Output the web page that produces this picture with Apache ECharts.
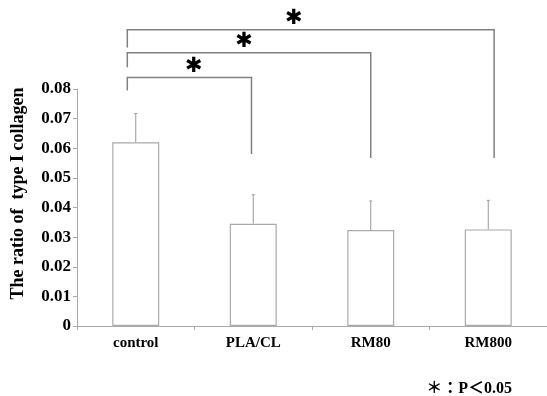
<!DOCTYPE html>
<html><head><meta charset="utf-8">
<script src="https://cdn.jsdelivr.net/npm/echarts@6/dist/echarts.min.js"></script>
<style>html,body{margin:0;padding:0;background:#fff}#c{width:547px;height:396px}</style>
</head><body><div id="c"></div>
<script>
const categories = ['control', 'PLA/CL', 'RM80', 'RM800'];
const means = [0.062, 0.0345, 0.0324, 0.0326];
const errTops = [0.0717, 0.0443, 0.0422, 0.0424];
const yMin = 0, yMax = 0.08, yStep = 0.01;
// significance brackets: from category, to category, line level, left foot, right foot
const bracketFrom = [0, 0, 0];
const bracketTo = [1, 2, 3];
const bracketLevel = [0.0839, 0.0922, 0.1];
const bracketLeftFoot = [0.0795, 0.0873, 0.094];
const bracketRightFoot = [0.0581, 0.0567, 0.0567];
const sigMark = '✱';
const footnote = '＊：P＜0.05';
const yName = 'The ratio of  type I collagen';

const serif = '"Liberation Serif", "Times New Roman", "Noto Sans CJK JP", serif';
const chart = echarts.init(document.getElementById('c'), null, {renderer: 'canvas'});

const bracketLeftShift = [-0.072, -0.072, -0.072];
const bracketRightShift = [-0.015, 0, 0.05];
const starFrac = [0.536, 0.48, 0.454];

const bracketData = bracketFrom.map((f, i) => [f, bracketTo[i], bracketLevel[i], bracketLeftFoot[i], bracketRightFoot[i], i]);
const errData = categories.map((c, i) => [i, means[i], errTops[i]]);

chart.setOption({
  animation: false,
  grid: {left: 77, right: 0, top: 89, bottom: 70, containLabel: false, outerBoundsMode: 'none'},
  title: {
    text: footnote, right: 30, top: 376,
    textStyle: {fontFamily: serif, fontWeight: 'bold', fontSize: 16, color: '#000'}
  },
  xAxis: {
    type: 'category', data: categories,
    axisLine: {lineStyle: {color: '#aaa', width: 1}},
    axisTick: {show: true, length: 4, inside: false, lineStyle: {color: '#aaa'}},
    axisLabel: {fontFamily: serif, fontWeight: 'bold', fontSize: 15, color: '#000', margin: 10},
    splitLine: {show: false}
  },
  yAxis: {
    type: 'value', min: yMin, max: yMax, interval: yStep,
    name: yName, nameLocation: 'middle', nameGap: 50,
    nameTextStyle: {fontFamily: serif, fontWeight: 'bold', fontSize: 18, color: '#000', padding: [0, 0, 0, 28]},
    axisLine: {show: true, lineStyle: {color: '#aaa', width: 1}},
    axisTick: {show: true, length: 4, lineStyle: {color: '#aaa'}},
    axisLabel: {fontFamily: serif, fontWeight: 'bold', fontSize: 17, color: '#000', margin: 6,
      formatter: v => v === 0 ? '0' : v.toFixed(2)},
    splitLine: {show: false}
  },
  series: [
    {
      type: 'bar', data: means, barWidth: '40%',
      itemStyle: {color: '#fff', borderColor: '#aaa', borderWidth: 1.2},
      z: 2
    },
    {
      type: 'custom', data: errData, z: 1, clip: false,
      renderItem: (params, api) => {
        const base = api.coord([api.value(0), api.value(1)]);
        const top = api.coord([api.value(0), api.value(2)]);
        return {type: 'group', children: [
          {type: 'line', shape: {x1: base[0], y1: base[1], x2: top[0], y2: top[1]}, style: {stroke: '#999', lineWidth: 1}},
          {type: 'line', shape: {x1: top[0] - 1.5, y1: top[1], x2: top[0] + 1.5, y2: top[1]}, style: {stroke: '#999', lineWidth: 1}}
        ]};
      }
    },
    {
      type: 'custom', data: bracketData, z: 3, clip: false,
      renderItem: (params, api) => {
        const k = api.value(5);
        const bw = api.size([1, 0])[0];
        const L = api.coord([api.value(0), api.value(2)]);
        const R = api.coord([api.value(1), api.value(2)]);
        const lx = L[0] + bracketLeftShift[k] * bw;
        const rx = R[0] + bracketRightShift[k] * bw;
        const y = L[1];
        const ly = api.coord([api.value(0), api.value(3)])[1];
        const ry = api.coord([api.value(1), api.value(4)])[1];
        const sx = lx + (rx - lx) * starFrac[k];
        return {type: 'group', children: [
          {type: 'polyline', shape: {points: [[lx, ly], [lx, y], [rx, y], [rx, ry]]}, style: {stroke: '#808080', lineWidth: 1.5, fill: null}},
          {type: 'text', x: sx, y: y - 11, style: {text: sigMark, font: 'bold 21px "DejaVu Sans"', fill: '#000', align: 'center', verticalAlign: 'middle'}}
        ]};
      }
    }
  ]
});
</script></body></html>
